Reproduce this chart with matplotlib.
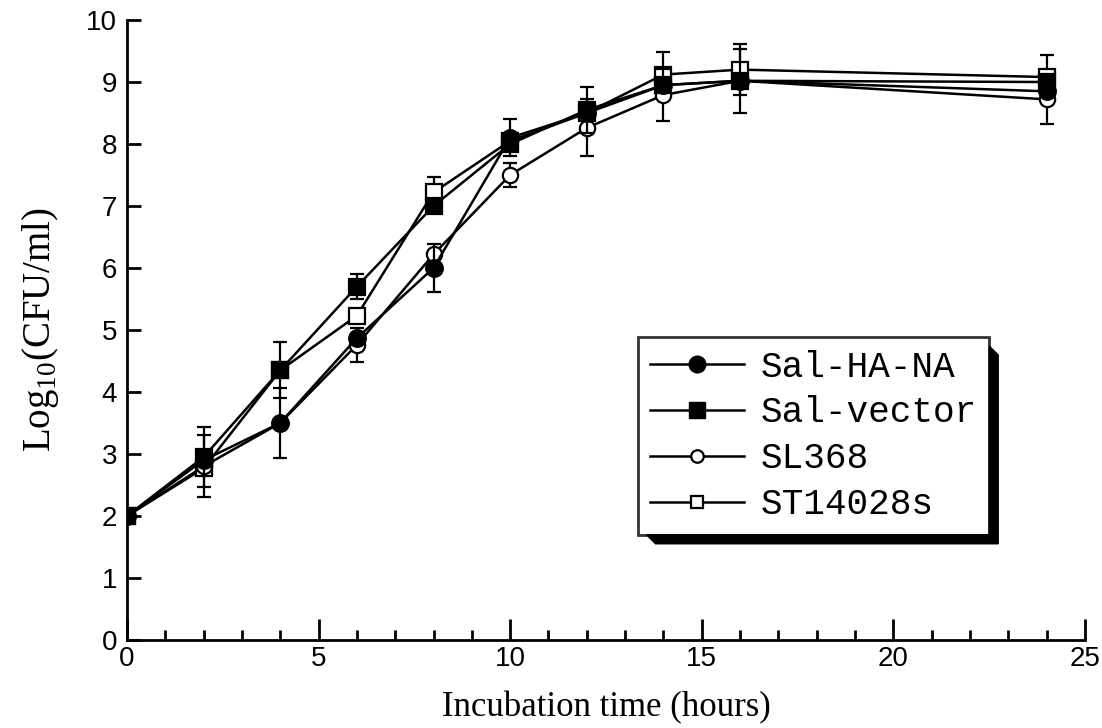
import numpy as np
import matplotlib
matplotlib.use("Agg")
import matplotlib.pyplot as plt
from matplotlib.patches import Polygon
from matplotlib.lines import Line2D
from matplotlib.ticker import MultipleLocator

plt.rcParams['font.family'] = ['Liberation Sans', 'DejaVu Sans']
plt.rcParams['mathtext.fontset'] = 'custom'
plt.rcParams['mathtext.rm'] = 'Liberation Serif'

hours = [0, 2, 4, 6, 8, 10, 12, 14, 16, 24]

sal_ha_na = [2.0, 2.9, 3.5, 4.87, 6.0, 8.1, 8.5, 8.95, 9.02, 8.85]
sal_vector = [2.0, 2.95, 4.35, 5.7, 7.0, 8.0, 8.55, 8.95, 9.02, 9.0]
sl368 = [2.0, 2.8, 3.5, 4.76, 6.22, 7.5, 8.26, 8.79, 9.02, 8.72]
st14028s = [2.0, 2.77, 4.35, 5.23, 7.22, 8.05, 8.5, 9.12, 9.2, 9.08]

err_ha_na = [0, 0, 0.56, 0, 0.39, 0.3, 0, 0, 0, 0]
err_vector = [0, 0.48, 0.45, 0.2, 0, 0, 0.37, 0, 0.52, 0]
err_sl368 = [0, 0.5, 0, 0.28, 0, 0.2, 0.46, 0.42, 0, 0.4]
err_st = [0, 0, 0, 0, 0.25, 0, 0, 0.36, 0.41, 0.36]

labels = ['Sal-HA-NA', 'Sal-vector', 'SL368', 'ST14028s']

fig = plt.figure(figsize=(11.02, 7.28), dpi=100)
ax = fig.add_axes([0.1152, 0.1209, 0.8693, 0.8516])

lw = 1.8
common = dict(color='black', lw=lw, capsize=5, elinewidth=1.6, capthick=1.6,
              markeredgewidth=1.6, markeredgecolor='black')

ax.errorbar(hours, st14028s, yerr=err_st, marker='s', ms=12,
            mfc='white', zorder=3, **common)
ax.errorbar(hours, sl368, yerr=err_sl368, marker='o', ms=11,
            mfc='white', zorder=4, **common)
ax.errorbar(hours, sal_ha_na, yerr=err_ha_na, marker='o', ms=12,
            mfc='black', zorder=5, **common)
ax.errorbar(hours, sal_vector, yerr=err_vector, marker='s', ms=12,
            mfc='black', zorder=6, **common)

ax.set_xlim(0, 25)
ax.set_ylim(0, 10)
ax.xaxis.set_major_locator(MultipleLocator(5))
ax.xaxis.set_minor_locator(MultipleLocator(1))
ax.yaxis.set_major_locator(MultipleLocator(1))

for s in ['top', 'right']:
    ax.spines[s].set_visible(False)
for s in ['left', 'bottom']:
    ax.spines[s].set_linewidth(2)

ax.tick_params(axis='both', which='major', direction='in', width=2,
               labelsize=20, pad=7)
ax.tick_params(axis='x', which='major', length=15, pad=4)
ax.tick_params(axis='y', which='major', length=10)
ax.tick_params(axis='x', which='minor', direction='in', width=2, length=7)

ax.set_xlabel('Incubation time (hours)', fontsize=25,
              family='Liberation Serif', labelpad=14)
ax.set_ylabel(r'Log$_{\mathregular{10}}$(CFU/ml)', fontsize=28,
              family='Liberation Serif', labelpad=18)

handles = [
    Line2D([], [], color='black', lw=lw, marker='o', ms=12, mfc='black', mec='black'),
    Line2D([], [], color='black', lw=lw, marker='s', ms=12, mfc='black', mec='black'),
    Line2D([], [], color='black', lw=lw, marker='o', ms=9, mfc='white', mec='black', mew=1.6),
    Line2D([], [], color='black', lw=lw, marker='s', ms=9, mfc='white', mec='black', mew=1.6),
]
leg = ax.legend(handles, labels, loc='upper left',
                bbox_to_anchor=(0.533, 0.4887), frameon=True, fancybox=False,
                edgecolor='black', handlelength=2.6, handletextpad=0.45,
                borderpad=0.35, labelspacing=0.3, borderaxespad=0,
                prop={'family': 'Liberation Mono', 'size': 26})
leg.get_frame().set_linewidth(2)
leg.set_zorder(10)

# block shadow under the legend box
fig.canvas.draw()
bb = leg.get_window_extent()
d = 9
pts = [(bb.x1, bb.y1 - d), (bb.x1 + d, bb.y1 - 2 * d), (bb.x1 + d, bb.y0 - d),
       (bb.x0 + 2 * d, bb.y0 - d), (bb.x0 + d, bb.y0), (bb.x1, bb.y0)]
pts = fig.transFigure.inverted().transform(pts)
fig.patches.append(Polygon(pts, closed=True, facecolor='black',
                           edgecolor='black', transform=fig.transFigure,
                           figure=fig, zorder=9))

fig.savefig('out.png', dpi=100)
